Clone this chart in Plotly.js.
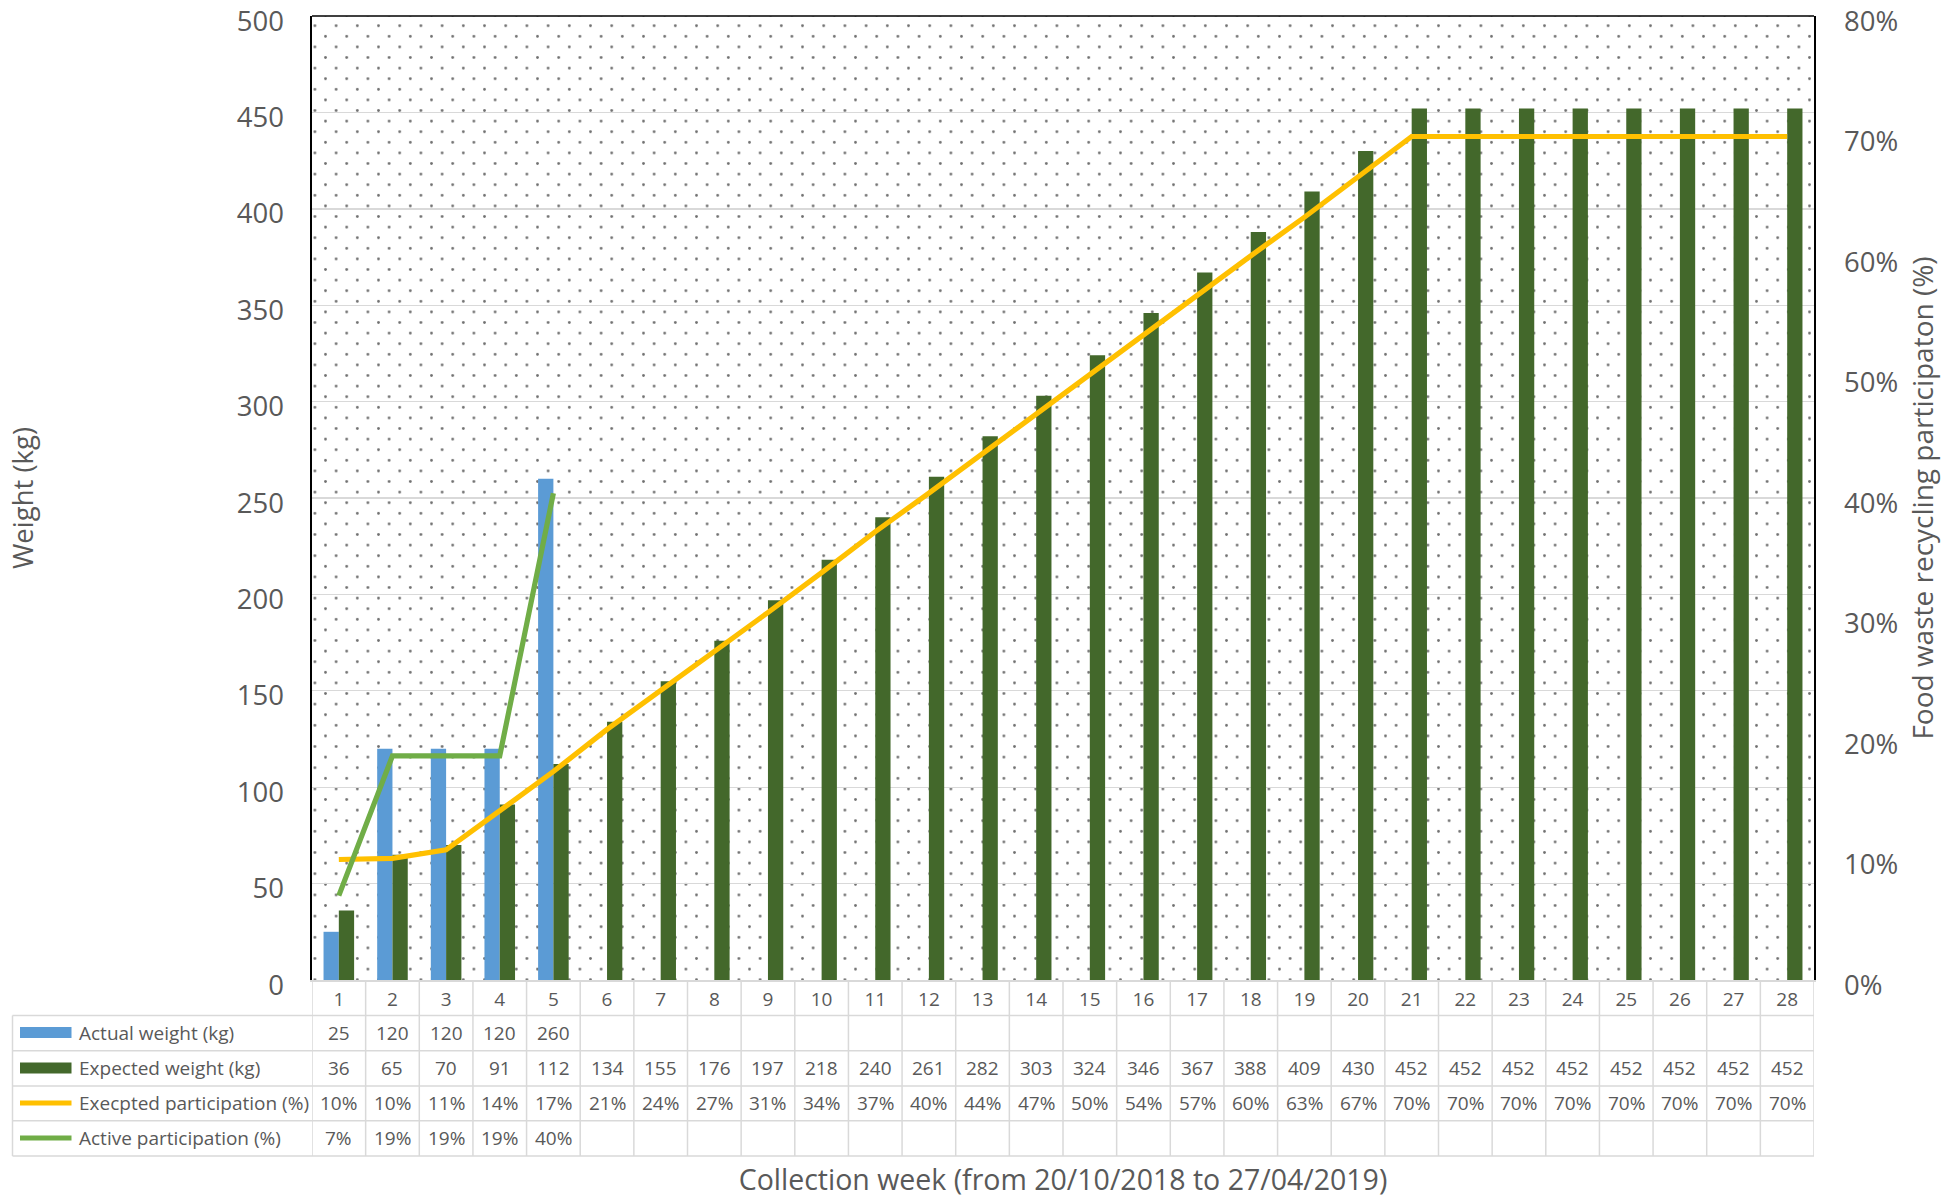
<!DOCTYPE html>
<html>
<head>
<meta charset="utf-8">
<script src="https://cdn.plot.ly/plotly-3.0.1.min.js"></script>
<style>
  html, body { margin: 0; padding: 0; background: #ffffff; }
  #chart { width: 1949px; height: 1198px; }
</style>
</head>
<body>
<div id="chart"></div>
<script>
// ---------------- DATA ----------------
const weeks = [1, 2, 3, 4, 5, 6, 7, 8, 9, 10, 11, 12, 13, 14, 15, 16, 17, 18, 19, 20, 21, 22, 23, 24, 25, 26, 27, 28];
const actualWeeks = [1, 2, 3, 4, 5];
const actualWeight = [25, 120, 120, 120, 260];
const expectedWeight = [36, 65, 70, 91, 112, 134, 155, 176, 197, 218, 240, 261, 282, 303, 324, 346, 367, 388, 409, 430, 452, 452, 452, 452, 452, 452, 452, 452];
// participation in percent (line values, consistent with the rounded table)
const expectedParticipation = [10.0, 10.1, 10.8, 14.1, 17.3, 20.8, 24.0, 27.3, 30.5, 33.8, 37.2, 40.4, 43.7, 46.9, 50.2, 53.6, 56.8, 60.1, 63.3, 66.6, 70.0, 70.0, 70.0, 70.0, 70.0, 70.0, 70.0, 70.0];
const activeParticipation = [7.0, 18.6, 18.6, 18.6, 40.4];
const rowNames = ["Actual weight (kg)", "Expected weight (kg)", "Execpted participation (%)", "Active participation (%)"];
const seriesColors = ["#5B9BD5", "#43682B", "#FFC000", "#70AD47"];

// ---------------- GEOMETRY / STYLE ----------------
const W = 1949, H = 1198;
const PL = 312, PR = 1814, PT = 16, PB = 980;
const PW = PR - PL, PH = PB - PT;
const px2x = p => (p - PL) / PW;
const py2y = p => -(p - PB) / PH;
const TEXT = "#595959";
const GRID = "#D9D9D9";
const FONT = "Open Sans, Noto Sans, sans-serif";

const rowCenters = [1032.5, 1068, 1103, 1138];
const rowEdges = [1015.5, 1050.7, 1086, 1120.7, 1156];
const tableLeft = 12.5;

// dotted background pattern as an svg image
const tile = 21.2;
const dotColor = "#707070";
const patSvg =
  '<svg xmlns="http://www.w3.org/2000/svg" width="' + PW + '" height="' + PH + '" viewBox="0 0 ' + PW + ' ' + PH + '" preserveAspectRatio="none">' +
  '<defs><pattern id="p" patternUnits="userSpaceOnUse" x="1.5" y="8.3" width="' + tile + '" height="' + tile + '">' +
  '<circle cx="1.4" cy="1.4" r="1.4" fill="' + dotColor + '"/>' +
  '<circle cx="' + (1.4 + tile / 2) + '" cy="' + (1.4 + tile / 2) + '" r="1.4" fill="' + dotColor + '"/>' +
  '</pattern></defs><rect x="0" y="0" width="' + PW + '" height="' + PH + '" fill="url(#p)"/></svg>';
const patUri = 'data:image/svg+xml;charset=utf-8,' + encodeURIComponent(patSvg);

// ---------------- TRACES ----------------
const traces = [
  {
    type: "bar", name: rowNames[0], x: actualWeeks, y: actualWeight,
    marker: { color: seriesColors[0], line: { width: 0 } }, offsetgroup: "a", hoverinfo: "skip"
  },
  {
    type: "bar", name: rowNames[1], x: weeks, y: expectedWeight,
    marker: { color: seriesColors[1], line: { width: 0 } }, offsetgroup: "b", hoverinfo: "skip"
  },
  {
    type: "scatter", mode: "lines", name: rowNames[2], x: weeks,
    y: expectedParticipation.map(v => v / 100), yaxis: "y2",
    line: { color: seriesColors[2], width: 5.2 }, hoverinfo: "skip"
  },
  {
    type: "scatter", mode: "lines", name: rowNames[3], x: actualWeeks,
    y: activeParticipation.map(v => v / 100), yaxis: "y2",
    line: { color: seriesColors[3], width: 5.2 }, hoverinfo: "skip"
  }
];

// ---------------- TABLE (shapes + annotations) ----------------
const shapes = [];
const annotations = [];
const lineStyle = { color: GRID, width: 1.5 };

// top border of plot area
shapes.push({ type: "line", xref: "paper", yref: "paper", x0: 0, x1: 1, y0: 1, y1: 1, line: { color: "#000000", width: 1.6 } });

// horizontal table lines
rowEdges.forEach(e => {
  shapes.push({ type: "line", xref: "paper", yref: "paper", x0: px2x(tableLeft), x1: 1, y0: py2y(e), y1: py2y(e), line: lineStyle });
});
// vertical table lines at category boundaries
weeks.concat([weeks.length + 1]).forEach(w => {
  shapes.push({ type: "line", xref: "x", yref: "paper", x0: w - 0.5, x1: w - 0.5, y0: 0, y1: py2y(rowEdges[rowEdges.length - 1]), line: lineStyle });
});
// left edge of the legend column
shapes.push({ type: "line", xref: "paper", yref: "paper", x0: px2x(tableLeft), x1: px2x(tableLeft), y0: py2y(rowEdges[0]), y1: py2y(rowEdges[rowEdges.length - 1]), line: lineStyle });

// legend keys
const keyX0 = 20, keyX1 = 71.5;
[0, 1].forEach(i => {
  shapes.push({ type: "rect", xref: "paper", yref: "paper", x0: px2x(keyX0), x1: px2x(keyX1),
    y0: py2y(rowCenters[i] + 5.5), y1: py2y(rowCenters[i] - 5.5), fillcolor: seriesColors[i], line: { width: 0 } });
});
[2, 3].forEach(i => {
  shapes.push({ type: "line", xref: "paper", yref: "paper", x0: px2x(keyX0), x1: px2x(keyX1),
    y0: py2y(rowCenters[i]), y1: py2y(rowCenters[i]), line: { color: seriesColors[i], width: 5 } });
});

// row labels
rowNames.forEach((n, i) => {
  annotations.push({ xref: "paper", yref: "paper", x: px2x(77), y: py2y(rowCenters[i]), xanchor: "left", yanchor: "middle",
    text: n, showarrow: false, font: { family: FONT, size: 19, color: TEXT } });
});

// cell values
const rows = [
  actualWeight.map(String),
  expectedWeight.map(String),
  expectedParticipation.map(v => Math.round(v) + "%"),
  activeParticipation.map(v => Math.round(v) + "%")
];
const rowWeeks = [actualWeeks, weeks, weeks, actualWeeks];
rows.forEach((vals, r) => {
  vals.forEach((t, k) => {
    annotations.push({ xref: "x", yref: "paper", x: rowWeeks[r][k], y: py2y(rowCenters[r]), xanchor: "center", yanchor: "middle",
      text: t, showarrow: false, font: { family: FONT, size: 19, color: TEXT } });
  });
});

// ---------------- LAYOUT ----------------
const layout = {
  width: W, height: H,
  margin: { l: PL, r: W - PR, t: PT, b: H - PB, pad: 0 },
  paper_bgcolor: "#FFFFFF",
  plot_bgcolor: "rgba(0,0,0,0)",
  showlegend: false,
  barmode: "group",
  bargap: 0.43,
  bargroupgap: 0,
  font: { family: FONT, color: TEXT },
  xaxis: {
    range: [0.5, weeks.length + 0.5],
    tickmode: "array", tickvals: weeks, ticktext: weeks.map(String),
    showgrid: false, zeroline: false,
    showline: true, linecolor: GRID, linewidth: 1.5,
    ticks: "", ticklabelstandoff: 2,
    tickfont: { family: FONT, size: 19, color: TEXT },
    title: { text: "Collection week (from 20/10/2018 to 27/04/2019)", font: { family: FONT, size: 28.5, color: TEXT }, standoff: 164 },
    fixedrange: true
  },
  yaxis: {
    range: [0, 500], dtick: 50, tick0: 0,
    showgrid: true, gridcolor: GRID, gridwidth: 1.4,
    zeroline: false,
    showline: true, linecolor: "#000000", linewidth: 1.6,
    ticks: "", ticklabelstandoff: 21, ticklabelshift: 5, ticklabeloverflow: "allow",
    tickfont: { family: FONT, size: 27.5, color: TEXT },
    title: { text: "Weight (kg)", font: { family: FONT, size: 27.5, color: TEXT }, standoff: 195 },
    fixedrange: true
  },
  yaxis2: {
    overlaying: "y", side: "right",
    range: [0, 0.8], dtick: 0.1, tick0: 0, tickformat: ".0%",
    showgrid: false, zeroline: false,
    showline: true, linecolor: "#000000", linewidth: 1.6,
    ticks: "", ticklabelstandoff: 23, ticklabelshift: 5, ticklabeloverflow: "allow",
    tickfont: { family: FONT, size: 27.5, color: TEXT },
    title: { text: "Food waste recycling participaton (%)", font: { family: FONT, size: 28, color: TEXT }, standoff: 16 },
    fixedrange: true
  },
  images: [{
    source: patUri, xref: "paper", yref: "paper", x: 0, y: 1, sizex: 1, sizey: 1,
    xanchor: "left", yanchor: "top", sizing: "stretch", layer: "below"
  }],
  shapes: shapes,
  annotations: annotations
};

Plotly.newPlot("chart", traces, layout, { staticPlot: true, displayModeBar: false });
</script>
</body>
</html>
